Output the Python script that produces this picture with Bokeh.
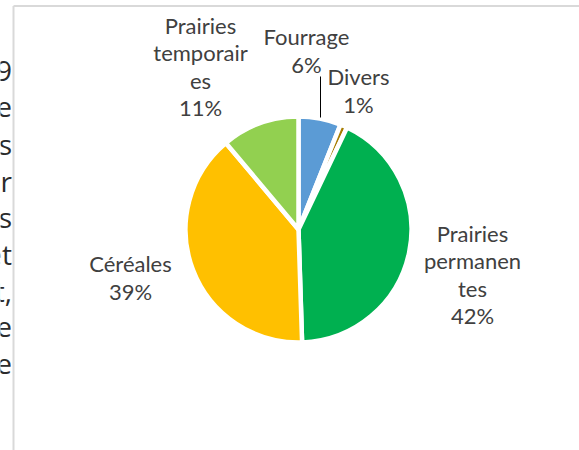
import math
from bokeh.plotting import figure
from bokeh.models import Range1d, ColumnDataSource
from bokeh.core.properties import value
from bokeh.embed import file_html
from bokeh.resources import INLINE

# ---- data ----
categories = ["Fourrage", "Divers", "Prairies permanentes", "Céréales", "Prairies temporaires"]
values = [6, 1, 42, 39, 11]
label_names = ["Fourrage", "Divers", "Prairies\npermanen\ntes", "Céréales", "Prairies\ntemporair\nes"]
colors = ["#5B9BD5", "#A67C00", "#00B050", "#FFC000", "#92D050"]
side_text = ["9", "e", "ts", "ur", "es", "et", "t,", "e", "e"]

# ---- layout (page pixel coordinates, y down) ----
W, H = 579, 450
CX, CY, R = 298, 229, 113
label_pos = [(306, 50), (358, 90), (472, 274), (130, 277), (200, 66)]
side_x = 11.5
side_baseline0, side_step = 70, 36.7

p = figure(width=W, height=H, output_backend="svg", toolbar_location=None,
           x_range=Range1d(0, W), y_range=Range1d(0, H),
           x_axis_type=None, y_axis_type=None, min_border=0,
           outline_line_color=None, background_fill_color="white",
           border_fill_color="white")
p.grid.visible = False

total = sum(values)
starts, ends, texts = [], [], []
acc = 0
for name, v in zip(label_names, values):
    starts.append(math.pi / 2 - 2 * math.pi * acc / total)
    acc += v
    ends.append(math.pi / 2 - 2 * math.pi * acc / total)
    texts.append(f"{name}\n{round(100 * v / total)}%")

src = ColumnDataSource(dict(cat=categories, val=values, start=starts, end=ends,
                            color=colors, text=texts,
                            lx=[q[0] for q in label_pos], ly=[H - q[1] for q in label_pos]))

p.wedge(x=CX, y=H - CY, radius=R, start_angle="start", end_angle="end",
        direction="clock", fill_color="color", line_color="white",
        line_width=4.5, source=src)

# leader line for Fourrage
p.segment(x0=[320], y0=[H - 76], x1=[320], y1=[H - 117], line_color="black", line_width=1)

p.text(x="lx", y="ly", text="text", source=src, text_font=value("Lato"),
       text_font_size="22px", text_color="#404040", text_align="center",
       text_baseline="middle", text_line_height=1.02)

# document frame lines
p.segment(x0=[13, 13], y0=[H - 5.5, H - 5.5], x1=[W, 13], y1=[H - 5.5, 0],
          line_color="#D9D9D9", line_width=2)

# clipped document text on the left
p.text(x=[side_x] * len(side_text),
       y=[H - (side_baseline0 + i * side_step) for i in range(len(side_text))],
       text=side_text, text_font=value("Open Sans"), text_font_size="28px",
       text_color="#2B2B2B", text_align="right", text_baseline="alphabetic")

open("out.html", "w").write(file_html(p, INLINE))
